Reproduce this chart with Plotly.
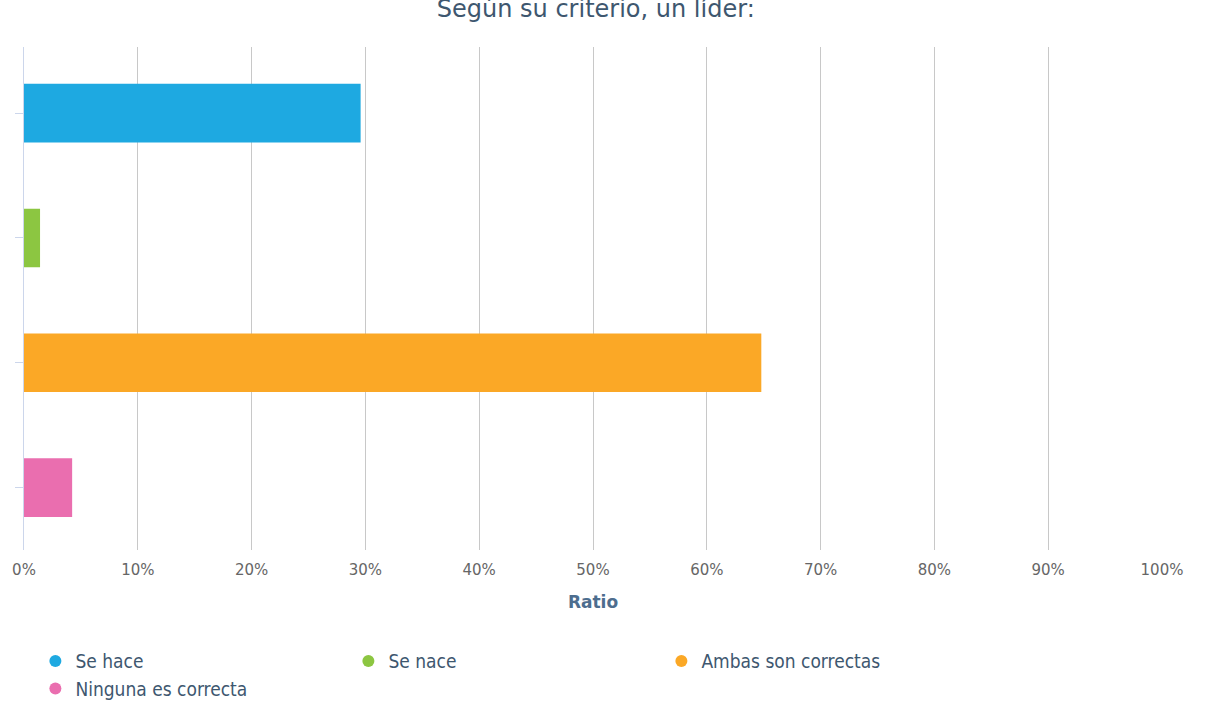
import plotly.graph_objects as go

categories = ["Se hace", "Se nace", "Ambas son correctas", "Ninguna es correcta"]
ratios = [29.58, 1.41, 64.79, 4.23]
colors = ["#1ea9e1", "#8cc641", "#fba826", "#ea6eaf"]
tick_vals = [0, 10, 20, 30, 40, 50, 60, 70, 80, 90, 100]
tick_text = [f"{v}%" for v in tick_vals]

fig = go.Figure()

# one bar per category, legend shown through circle markers
for cat, val, col in zip(categories, ratios, colors):
    fig.add_trace(go.Bar(x=[val], y=[cat], orientation="h", width=0.47, marker_color=col,
                         marker_line_width=0, showlegend=False, name=cat))
for cat, col in zip(categories, colors):
    fig.add_trace(go.Scatter(x=[None], y=[None], mode="markers", name=cat,
                             marker=dict(symbol="circle", size=13, color=col)))

fig.update_layout(
    width=1206, height=707,
    margin=dict(l=24, r=44, t=47, b=157, autoexpand=False),
    paper_bgcolor="white", plot_bgcolor="white",
    barmode="overlay",
    title=dict(text="Según su criterio, un líder:", x=0.494, xanchor="center", y=0.988, yanchor="middle",
               font=dict(size=24, color="#3e576f", family="DejaVu Sans")),
    font=dict(family="DejaVu Sans", color="#333333"),
    legend=dict(orientation="h", x=0.010, y=-0.183, xanchor="left", yanchor="top",
                entrywidth=268, entrywidthmode="pixels",
                font=dict(size=19, color="#3e576f", family="DejaVu Sans Condensed, Roboto"),
                itemsizing="constant", tracegroupgap=0),
)

fig.update_xaxes(range=[0, 100], tickvals=tick_vals, ticktext=tick_text, showgrid=True, gridcolor="#c8c8c8",
                 gridwidth=1, zeroline=False, showline=False, tickfont=dict(size=15, color="#666666"),
                 ticks="", ticklabelstandoff=9, automargin=False,
                 title=dict(text="<b>Ratio</b>", font=dict(size=17, color="#4d6d8e"), standoff=18))
fig.update_yaxes(categoryorder="array", categoryarray=categories, range=[3.5, -0.53], showticklabels=False,
                 showgrid=False, zeroline=False, showline=True, linecolor="#ccd6eb", linewidth=1,
                 ticks="outside", ticklen=8, tickcolor="#ccd6eb", automargin=False)

fig.write_html("out.html", config={"displayModeBar": False},
               post_script="document.body.style.margin = '0';")
